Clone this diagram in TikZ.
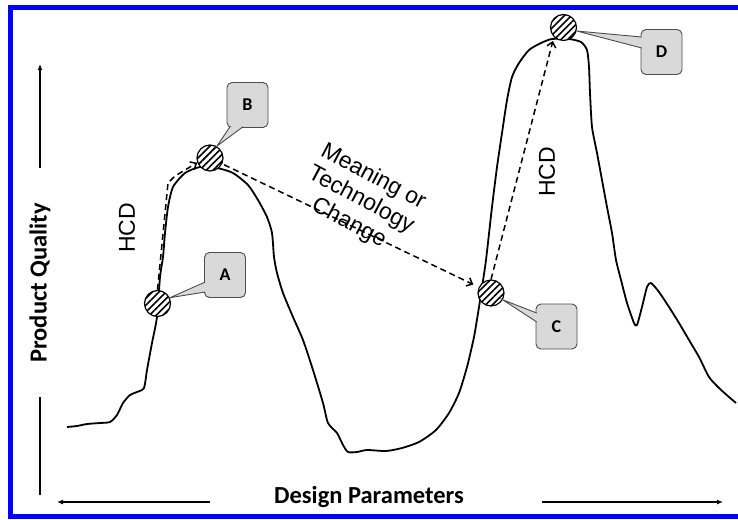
\documentclass[tikz,border=0pt]{standalone}
\usepackage{fontspec}
\setmainfont{Liberation Sans}
\newfontfamily\carlito{Carlito}
\usetikzlibrary{arrows.meta,patterns.meta,calc}

\tikzset{
  spot/.style={circle, draw, line width=1.2pt, minimum size=26pt, inner sep=0pt,
    preaction={fill=white}, pattern={Lines[angle=45,distance=4.8pt,line width=1.6pt]}},
  callout/.style={draw=gray!60!black, fill=gray!30, line width=0.9pt, rounded corners=5pt,
    minimum width=41pt, minimum height=45pt, font=\carlito\bfseries\fontsize{18}{20}\selectfont},
  calloutfill/.style={fill=gray!30},
  calloutline/.style={draw=gray!60!black, line width=0.9pt},
  hcdline/.style={dash pattern=on 6pt off 4pt, line width=1.5pt, -{Straight Barb[length=5pt,width=9pt]}},
  axis/.style={line width=1.8pt},
  axlabel/.style={font=\carlito\bfseries\fontsize{24.5}{28}\selectfont},
  note/.style={font=\fontsize{23}{26}\selectfont, align=center}
}

% pointer of a callout: base start, base end, tip
\newcommand{\pointer}[3]{%
  \fill[calloutfill] #1 -- #3 -- #2 -- cycle;
  \draw[calloutline] #1 -- #3 -- #2;}

\begin{document}
\begin{tikzpicture}[x=1pt, y=-1pt]
	\useasboundingbox (0,0) rectangle (738,519);
	\draw[blue, line width=4.5pt] (738,7.5) -- (10.5,7.5) -- (10.5,516.5) -- (738,516.5);

	% quality curve
	\draw[line width=1.8pt, line join=round] plot[smooth, tension=0.4] coordinates {
		(67,427) (77,426) (87,424) (100,423) (110,422) (117,415) (123,403) (130,395)
		(137,392) (144,388) (147,370) (152,343) (157,317) (160,277) (163,257) (165,233)
		(168,207) (173,187) (185,173) (200,167) (217,168) (233,173) (248,185) (258,200)
		(267,217) (272,233) (274,257) (277,273) (283,293) (293,317) (303,340) (313,370)
		(323,403) (328,423) (337,433) (343,445) (348,452) (357,452) (367,450) (386,451)
		(402,448) (419,442) (436,430) (449,413) (459,393) (467,367) (474,337) (479,307)
		(482,287) (486,260) (492,207) (497,167) (502,133) (507,100) (512,77) (519,63)
		(529,50) (541,43) (552,39) (569,39) (581,42) (587,50) (589,67) (590,93)
		(592,127) (597,153) (602,180) (607,207) (612,233) (616,260) (621,280) (627,303)
		(634,323) (637,325) (642,307) (647,287) (651,283) (659,292) (669,307) (679,323)
		(689,340) (699,357) (709,377) (719,388) (729,397) (736,403)};

	% points on the curve
	\node[spot] (A) at (157.5,303.5) {};
	\node[spot] (B) at (210,158) {};
	\node[spot] (C) at (491,293) {};
	\node[spot] (D) at (563.5,27.5) {};

	% callouts
	\node[callout] (boxA) at (225,275) {A};
	\node[callout] (boxB) at (247.5,105) {B};
	\node[callout] (boxC) at (556.5,326.5) {C};
	\node[callout] (boxD) at (661.5,52) {D};
	\pointer{($(boxA.west)+(1.2,7)$)}{($(boxA.west)+(1.2,17)$)}{(A.25)}
	\pointer{($(boxB.south)+(-17.5,-1.2)$)}{($(boxB.south)+(-4.5,-1.2)$)}{(B.60)}
	\pointer{($(boxC.west)+(1.2,-13.5)$)}{($(boxC.west)+(1.2,-4.5)$)}{(C.-30)}
	\pointer{($(boxD.west)+(1.2,-15)$)}{($(boxD.west)+(1.2,-4)$)}{(D.-15)}

	% moves between the points
	\coordinate (bend1) at (168,183);
	\coordinate (bend2) at (175,176);
	\draw[hcdline] (A.north) -- (bend1) -- (bend2) -- (B.200);
	\draw[hcdline, shorten <=2pt, shorten >=6pt] (B) -- (C);
	\draw[hcdline, shorten >=4pt] (C.north) -- (D.225);

	\node[note, rotate=90] (hcdl) at (127,228) {HCD};
	\node[note, rotate=90] (hcdr) at (547,172) {HCD};
	\node[note, rotate=-28] (mtc) at (361,200) {Meaning or\\Technology\\Change};

	% axes
	\node[axlabel, rotate=90] (pq) at (40,283) {Product Quality};
	\node[axlabel] (dp) at (369,497) {Design Parameters};
	\coordinate (q1) at (40,168);
	\coordinate (q2) at (40,64);
	\coordinate (q3) at (40,397);
	\coordinate (q4) at (40,495);
	\coordinate (p1) at (210,502);
	\coordinate (p2) at (57,502);
	\coordinate (p3) at (542,502);
	\coordinate (p4) at (723,502);
	\draw[axis, -{Latex[length=6pt,width=5pt]}] (q1) -- (q2);
	\draw[axis] (q3) -- (q4);
	\draw[axis, -{Latex[length=6pt,width=5pt]}] (p1) -- (p2);
	\draw[axis, -{Latex[length=6pt,width=5pt]}] (p3) -- (p4);
\end{tikzpicture}
\end{document}
